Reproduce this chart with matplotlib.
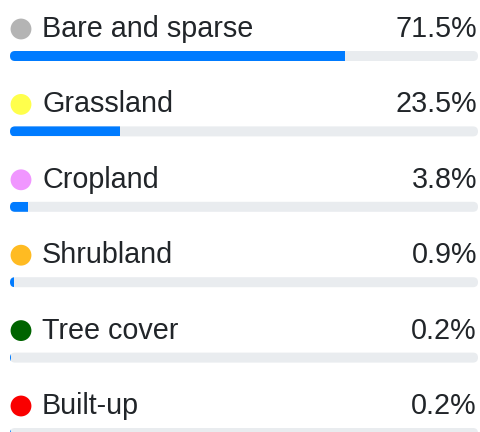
import matplotlib
matplotlib.use("Agg")
import matplotlib.pyplot as plt
from matplotlib.patches import FancyBboxPatch

# land cover shares
categories = ["Bare and sparse", "Grassland", "Cropland", "Shrubland", "Tree cover", "Built-up"]
shares = [71.5, 23.5, 3.8, 0.9, 0.2, 0.2]
dot_colors = ["#b4b4b4", "#ffff4c", "#f096ff", "#ffbb22", "#006400", "#fa0000"]

plt.rcParams['font.family'] = ['Liberation Sans', 'DejaVu Sans']

fig = plt.figure(figsize=(4.8, 4.32), dpi=100)
ax = fig.add_axes([0, 0, 1, 1])

# pixel scale: x 0..100 -> 10..478 px, one row = 75.4 px
px_x = 468 / 100
px_y = 75.4
ax.set_xlim(-10 / px_x, 470 / px_x)
ax.set_ylim((432 - 56) / px_y, -56 / px_y)
ax.axis('off')

bar_h = 10 / px_y
rad = 5 / px_x

for i, (name, val, col) in enumerate(zip(categories, shares, dot_colors)):
    track = FancyBboxPatch((0, i - bar_h / 2), 100, bar_h,
                           boxstyle="round,pad=0,rounding_size=%f" % rad,
                           mutation_aspect=px_x / px_y,
                           facecolor="#e9ecef", edgecolor="none")
    ax.add_patch(track)
    bars = ax.barh(i, val, height=bar_h, left=0, color="#007bff", linewidth=0)
    for b in bars:
        b.set_clip_path(track)

    ax.scatter([11 / px_x], [i - 27 / px_y], s=225, color=col, edgecolors="none", zorder=3)
    ax.text(32 / px_x, i - 19 / px_y, name, fontsize=20.7, color="#212529", va="baseline", ha="left")
    ax.text(467 / px_x, i - 19 / px_y, "%.1f%%" % val, fontsize=20.7, color="#212529", va="baseline", ha="right")

plt.savefig("out.png", dpi=100)
